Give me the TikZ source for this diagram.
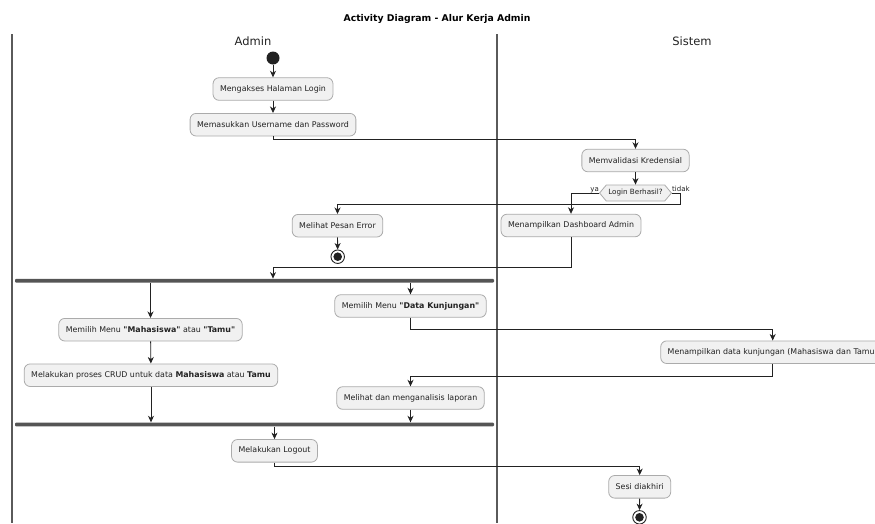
\documentclass[tikz,border=0pt]{standalone}
\usepackage{fontspec}
\setmainfont{DejaVu Sans}[Ligatures=TeXOff]
\usetikzlibrary{arrows.meta,shapes.symbols}

\definecolor{boxfill}{HTML}{F1F1F1}
\definecolor{boxline}{HTML}{ABABAB}
\definecolor{ink}{HTML}{222222}
\definecolor{lane}{HTML}{5A5A5A}
\definecolor{barfill}{HTML}{555555}

\tikzset{
  act/.style={draw=boxline, fill=boxfill, line width=0.8pt, rounded corners=6pt,
    inner xsep=7pt, inner ysep=0pt, minimum height=22.6pt, text=ink,
    font=\fontsize{7.9}{9.5}\selectfont},
  choice/.style={shape=signal, signal to=west and east, signal pointer angle=100,
    draw=boxline, fill=boxfill, line width=0.8pt, inner xsep=2pt, inner ysep=0pt,
    minimum height=16pt, text=ink, font=\fontsize{7.2}{8.5}\selectfont},
  lbl/.style={inner sep=0pt, text=ink, font=\fontsize{7}{8}\selectfont},
  startnode/.style={circle, fill=ink, minimum size=13pt, inner sep=0pt},
  endnode/.style={circle, draw=ink, fill=white, line width=0.9pt, minimum size=13.5pt,
    inner sep=0pt, path picture={\fill[ink] (path picture bounding box.center) circle (4.3pt);}},
  bar/.style={fill=barfill, rounded corners=1pt, inner sep=0pt, minimum height=3.8pt,
    minimum width=479pt},
  arr/.style={draw=ink, line width=0.8pt, -{Stealth[length=6.5pt,width=6pt,inset=2pt]}},
  lanehead/.style={text=ink, font=\fontsize{11.5}{13}\selectfont},
  laneline/.style={draw=lane, line width=1.3pt},
}

\begin{document}
\begin{tikzpicture}[x=1pt, y=-1pt]
\useasboundingbox (0,0) rectangle (875,523);
\clip (0,0) rectangle (875,523);

% title and swimlanes
\node[text=black, font=\bfseries\fontsize{9.3}{11}\selectfont] (title) at (437,19) {Activity Diagram - Alur Kerja Admin};
\node[lanehead] (hadmin) at (253,41) {Admin};
\node[lanehead] (hsistem) at (692,41) {Sistem};
\coordinate (l1t) at (12,34);  \coordinate (l1b) at (12,523);
\coordinate (l2t) at (497,34); \coordinate (l2b) at (497,523);
\draw[laneline] (l1t) -- (l1b);
\draw[laneline] (l2t) -- (l2b);

% login
\node[startnode] (start) at (273,58) {};
\node[act] (a1) at (273,89) {Mengakses Halaman Login};
\node[act] (a2) at (273,124.7) {Memasukkan Username dan Password};
\node[act] (v) at (635.5,160.5) {Memvalidasi Kredensial};
\node[choice] (d) at (635.5,193) {Login Berhasil?};
\node[lbl, anchor=base east] (ya) at (599,191) {ya};
\node[lbl, anchor=base west] (tidak) at (672,191) {tidak};
\node[act] (err) at (337.5,225.7) {Melihat Pesan Error};
\node[endnode] (errend) at (337.7,256.7) {};
\node[act] (dash) at (571,225.5) {Menampilkan Dashboard Admin};

% parallel work
\node[bar] (fork1) at (254.5,280.7) {};
\node[act] (m1) at (150.5,329.7) {Memilih Menu \textbf{"Mahasiswa"} atau \textbf{"Tamu"}};
\node[act] (dk) at (410.5,306) {Memilih Menu \textbf{"Data Kunjungan"}};
\node[act] (crud) at (151,375.2) {Melakukan proses CRUD untuk data \textbf{Mahasiswa} atau \textbf{Tamu}};
\node[act] (show) at (772.7,352.2) {Menampilkan data kunjungan (Mahasiswa dan Tamu)};
\node[act] (lap) at (410.5,398) {Melihat dan menganalisis laporan};
\node[bar] (join) at (254.5,424.4) {};

% logout
\node[act] (logout) at (274.5,450.8) {Melakukan Logout};
\node[act] (sesi) at (639.7,486.8) {Sesi diakhiri};
\node[endnode] (ends) at (639.5,517.3) {};

% connectors
\draw[arr] (start) -- (a1);
\draw[arr] (a1) -- (a2);
\draw[arr] (a2.south) -- ++(0,3.3) -| (v.north);
\draw[arr] (v) -- (d);
\draw[arr] (d.west) -| (dash.north);
\draw[arr] (d.east) -- ++(8,0) -- ++(0,11.3) -| (err.north);
\draw[arr] (err) -- (errend);
\draw[arr] (dash.south) -- ++(0,30.5) -| (a2 |- fork1.north);
\draw[arr] (m1 |- fork1.south) -- (m1.north);
\draw[arr] (dk |- fork1.south) -- (dk.north);
\draw[arr] (m1) -- (crud);
\draw[arr] (dk.south) -- ++(0,11.3) -| (show.north);
\draw[arr] (show.south) -- ++(0,12.4) -| (lap.north);
\draw[arr] (crud.south) -- (crud |- join.north);
\draw[arr] (lap.south) -- (lap |- join.north);
\draw[arr] (logout |- join.south) -- (logout.north);
\draw[arr] (logout.south) -- ++(0,3.4) -| (sesi.north);
\draw[arr] (sesi) -- (ends);
\end{tikzpicture}
\end{document}
